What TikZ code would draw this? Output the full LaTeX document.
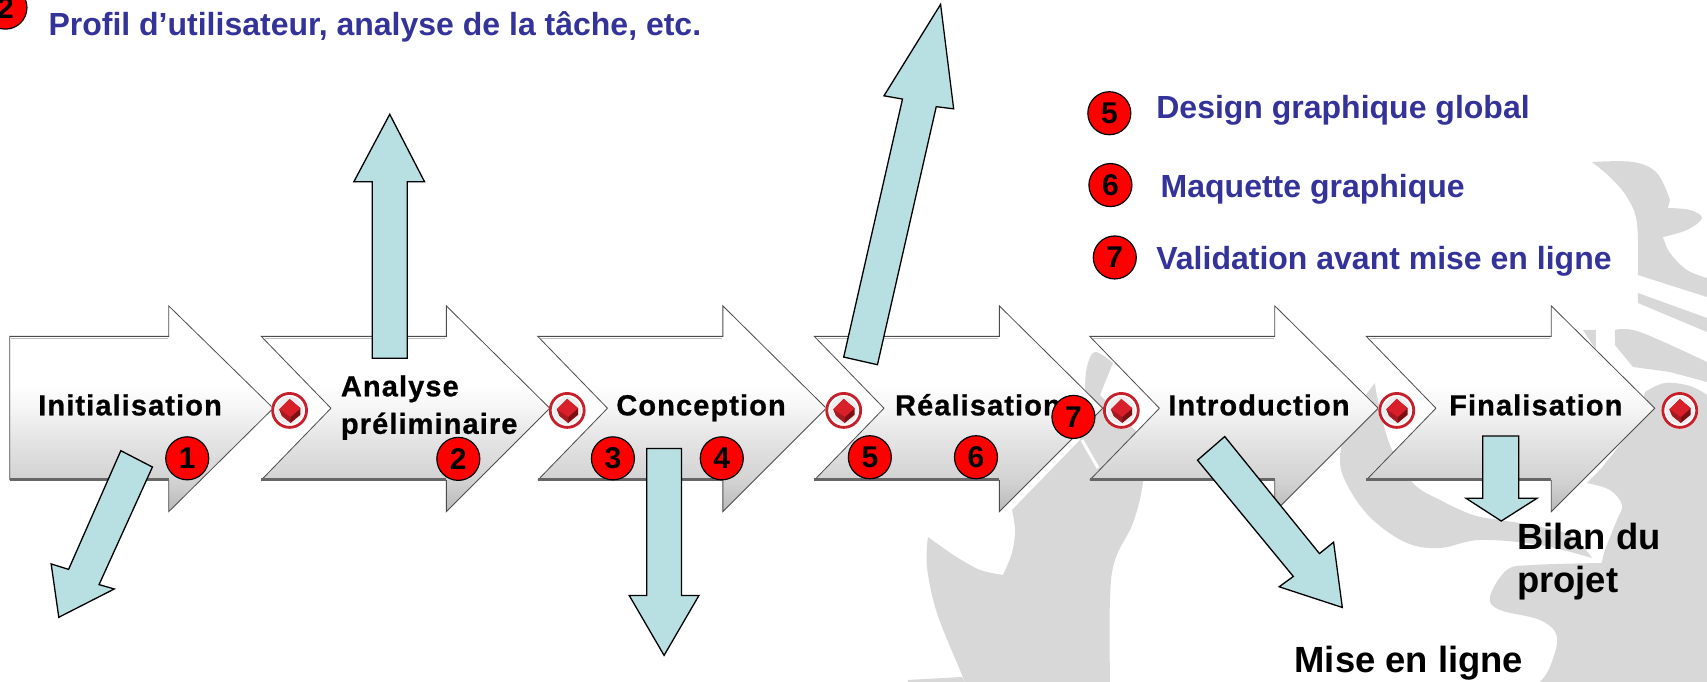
\documentclass[tikz,border=0pt]{standalone}
\usepackage{fontspec}
\setmainfont{Liberation Sans}[BoldFont={Liberation Sans Bold}]
\newfontfamily\chevfont{Liberation Sans Bold}[LetterSpace=3.8,FakeBold=0.8]
\usetikzlibrary{shapes.geometric}
\definecolor{wm}{HTML}{D8D8D8}
\definecolor{teal}{HTML}{B8E0E3}
\definecolor{navy}{HTML}{333399}
\definecolor{ring}{HTML}{C8202A}
\definecolor{cubeA}{HTML}{D81F2A}
\definecolor{cubeC}{HTML}{A81820}
\definecolor{cubeB}{HTML}{7A1014}
\pgfdeclareverticalshading{chevshade}{100bp}{color(0bp)=(black!28); color(25bp)=(black!28); color(32bp)=(black!18); color(42bp)=(black!11); color(50bp)=(black!4); color(56bp)=(white); color(100bp)=(white)}
\tikzset{
  blockarrow/.style={draw=black,line width=1.3pt,fill=teal,line join=miter},
  redmark/.style={circle,draw=black,line width=1.2pt,fill=red,inner sep=0pt,minimum size=43pt,font=\fontsize{30}{30}\selectfont\bfseries,text=black},
  bluetext/.style={anchor=base west,text=navy,font=\fontsize{32}{34}\selectfont\bfseries,inner sep=0pt},
  blacklabel/.style={anchor=west,align=left,text=black,font=\fontsize{36.4}{43}\selectfont\bfseries,inner sep=0pt},
  chevtext/.style={anchor=base west,text=black,font=\fontsize{29}{38}\selectfont\chevfont,inner sep=0pt},
}
\newcommand{\chevpath}[1]{
  \path[shading=chevshade] (#1,309) -- (#1+170,309) -- (#1+170,281) -- (#1+265,375) -- (#1+170,470) -- (#1+170,441) -- (#1,441) -- (#1+64,375) -- cycle;
  \draw[black!25,line width=1.6pt] (#1+3,311) -- (#1+169,311);
  \draw[black!70,line width=0.8pt] (#1+64,375) -- (#1,309) -- (#1+170,309) -- (#1+170,281) -- (#1+265,375) -- (#1+170,470) -- (#1+170,441) (#1,441) -- (#1+64,375);
  \draw[black!60,line width=3pt] (#1,440.5) -- (#1+170,440.5);
}
\newcommand{\iconmark}[2]{
  \begin{scope}[shift={(#1,#2)}]
    \fill[white] (0,0) ellipse [x radius=17,y radius=17];
    \draw[ring,line width=2.8pt] (0,0) ellipse [x radius=15.6,y radius=15.6];
    \fill[black!7] (0,0) ellipse [x radius=12.6,y radius=12.6];
    \fill[cubeB] (-9.5,-1) -- (0,-10.5) -- (10,-2) -- (10,4) -- (1,11.5) -- (-7,5) -- cycle;
    \fill[cubeC] (-9.5,-1) -- (1,6) -- (1,11.5) -- (-7,5) -- cycle;
    \fill[cubeA] (-9.5,-1) -- (0,-10.5) -- (10,-2) -- (1,6) -- cycle;
  \end{scope}
}
\begin{document}
\begin{tikzpicture}[x=1.0887pt,y=-1.0887pt]
\useasboundingbox (0,0) rectangle (1568,626.4);
\fill[white] (0,0) rectangle (1568,626.4);
% watermark, in full-size pixels
\begin{scope}[x=1pt,y=-1pt]
  \fill[wm] (1100,395) -- plot[smooth,tension=.6] coordinates {(1113,363) (1095,352) (1087,367) (1085,390) (1085,420) (1080,440)} -- (1012,510) -- plot[smooth,tension=.6] coordinates {(1012,510) (1015,530) (1012,553) (1003,575)} -- plot[smooth,tension=.5] coordinates {(1003,575) (980,570) (955,556) (928,537)} -- plot[smooth,tension=.6] coordinates {(928,537) (927,567) (937,613) (960,670) (965,682)} -- (1110,682) -- plot[smooth,tension=.6] coordinates {(1110,682) (1110,600) (1115,560) (1133,523) (1143,483) (1145,440)} -- cycle;
  \fill[wm] (908,680) -- (962,677) -- (965,682) -- (908,682) -- cycle;
  \draw[white,line width=3pt] (1082,440) -- (1098,468);
  \fill[wm] plot[smooth,tension=.6] coordinates {(1375,383) (1350,420) (1340,460) (1350,490) (1373,520) (1407,543) (1440,548) (1480,540) (1540,545) (1592,558)} -- plot[smooth,tension=.6] coordinates {(1592,558) (1570,535) (1530,525) (1500,520) (1473,515) (1440,500) (1413,483) (1390,445) (1378,400) (1375,383)} -- cycle;
  \fill[wm] plot[smooth,tension=.6] coordinates {(1707,395) (1690,386) (1665,383) (1645,392)} -- (1640,420) -- (1600,470) -- plot[smooth,tension=.6] coordinates {(1587,483) (1610,490) (1622,505) (1617,520) (1605,550) (1602,563)} -- plot[smooth,tension=.6] coordinates {(1602,563) (1533,565) (1507,570) (1490,597) (1500,610) (1540,620) (1557,637) (1550,667) (1540,682)} -- (1707,682) -- cycle;
  \fill[wm] plot[smooth,tension=.6] coordinates {(1592,162) (1633,162) (1657,173) (1670,200)} -- (1668,208) -- plot[smooth,tension=.6] coordinates {(1668,208) (1690,210) (1702,218) (1687,230) (1663,237)} -- plot[smooth,tension=.6] coordinates {(1663,237) (1670,253) (1687,270) (1707,278)} -- (1707,297) -- (1638,275) -- plot[smooth,tension=.6] coordinates {(1638,275) (1637,223) (1627,197) (1610,177) (1592,162)} -- cycle;
  \fill[wm] (1638,293) -- (1707,318) -- (1707,332) -- (1638,303) -- cycle;
  \fill[wm] plot[smooth,tension=.6] coordinates {(1615,330) (1640,332) (1707,362)} -- (1707,382) -- (1670,372) -- (1633,367) -- (1615,345) -- cycle;
  \fill[wm] (1583,330) -- (1596,330) -- (1596,350) -- cycle;
\end{scope}
% chevrons
\path[shading=chevshade] (9,309) -- (155,309) -- (155,281) -- (251,375) -- (155,470) -- (155,441) -- (9,441) -- cycle;
\draw[black!25,line width=1.6pt] (10,311) -- (154,311);
\draw[black!70,line width=0.8pt] (9,441) -- (9,309) -- (155,309) -- (155,281) -- (251,375) -- (155,470) -- (155,441);
\draw[black!60,line width=3pt] (9,440.5) -- (155,440.5);
\chevpath{240}
\chevpath{494}
\chevpath{748}
\chevpath{1001}
\chevpath{1255}
% chevron icons
\iconmark{266}{377}
\iconmark{521}{377}
\iconmark{775}{377}
\iconmark{1030}{377}
\iconmark{1283}{377}
\iconmark{1543}{377}
% chevron labels
\node[chevtext] (tInit) at (35,381.5) {Initialisation};
\node[chevtext] (tAna) at (313,364) {Analyse};
\node[chevtext] (tPre) at (313,398.5) {préliminaire};
\node[chevtext] (tCon) at (566,381.5) {Conception};
\node[chevtext] (tRea) at (822,381.5) {Réalisation};
\node[chevtext] (tInt) at (1073,381.5) {Introduction};
\node[chevtext] (tFin) at (1331,381.5) {Finalisation};
% block arrows
\draw[blockarrow] (342,329) -- (342,167) -- (325,167) -- (358,105) -- (390,167) -- (374,167) -- (374,329) -- cycle;
\draw[blockarrow] (775,328) -- (829,91) -- (812,88) -- (864,4) -- (876,100) -- (860,98) -- (806,335) -- cycle;
\draw[blockarrow] (111,414) -- (63,523) -- (47,518) -- (54,567) -- (105,541) -- (91,537) -- (140,429) -- cycle;
\draw[blockarrow] (594,412) -- (594,547) -- (578,547) -- (610,602) -- (642,547) -- (626,547) -- (626,412) -- cycle;
\draw[blockarrow] (1125,401) -- (1212,508.5) -- (1225,498) -- (1233,558) -- (1175,539) -- (1188,529.5) -- (1100,422.7) -- cycle;
\draw[blockarrow] (1362,400.5) -- (1362,457.6) -- (1346.5,457.6) -- (1379,478.6) -- (1412,457.6) -- (1395,457.6) -- (1395,400.5) -- cycle;
% red markers
\node[redmark] (m1) at (172,421) {1};
\node[redmark] (m2) at (421,421.5) {2};
\node[redmark] (m3) at (563,421) {3};
\node[redmark] (m4) at (663,421) {4};
\node[redmark] (m5) at (799,420) {5};
\node[redmark] (m6) at (896.5,420) {6};
\node[redmark] (m7) at (986,383) {7};
\node[redmark] (k2) at (5,7) {2};
\node[redmark] (k5) at (1019,104) {5};
\node[redmark] (k6) at (1020,170) {6};
\node[redmark] (k7) at (1024,236.5) {7};
% blue texts
\node[bluetext] (b2) at (44.4,33) {Profil d’utilisateur, analyse de la tâche, etc.};
\node[bluetext] (b5) at (1062,109) {Design graphique global};
\node[bluetext] (b6) at (1066,181) {Maquette graphique};
\node[bluetext] (b7) at (1062,248) {Validation avant mise en ligne};
% black labels
\node[blacklabel] (bilan) at (1393.4,516) {Bilan du\\projet};
\node[blacklabel,anchor=base west] (mise) at (1189,618) {Mise en ligne};
\end{tikzpicture}
\end{document}
